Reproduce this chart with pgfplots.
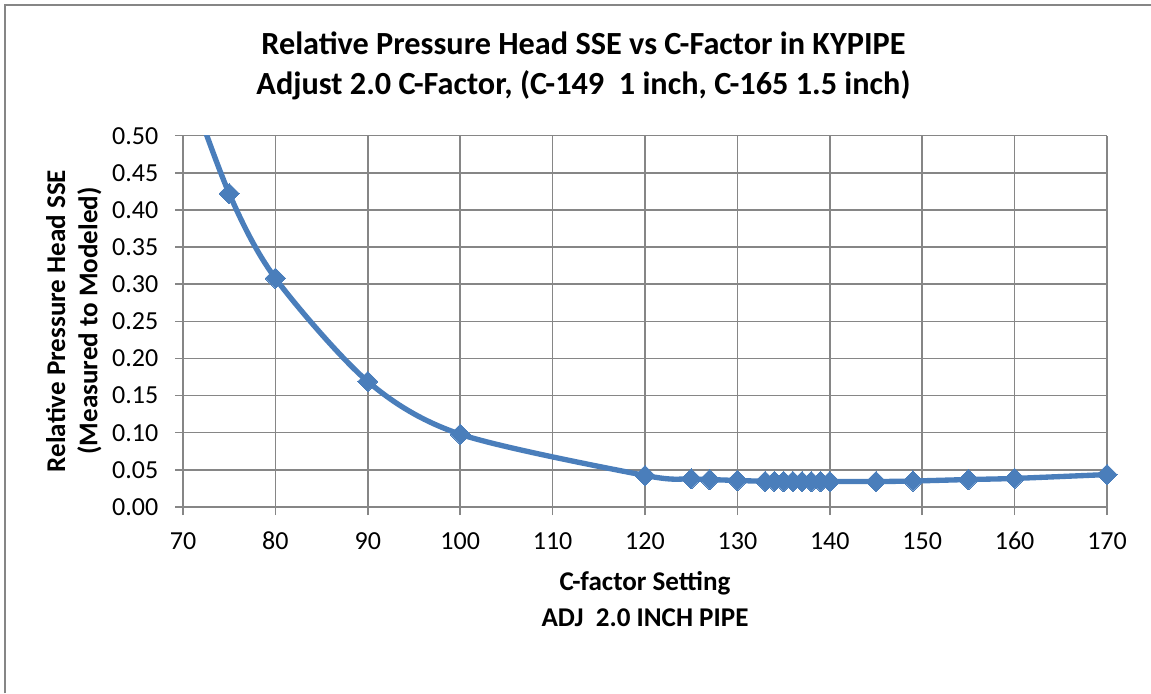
\documentclass[border=0pt]{standalone}
\usepackage{fontspec}
\setmainfont{Carlito}
\usepackage{pgfplots}
\pgfplotsset{compat=1.18}
\definecolor{gridgray}{HTML}{868686}
\definecolor{serblue}{HTML}{4A7EBB}
\begin{document}
\begin{tikzpicture}
\path[use as bounding box] (0,0) rectangle (863.25pt,-519.75pt);
\draw[gridgray, line width=0.8pt] (3.75pt,-520pt) -- (3.75pt,-3.75pt) -- (864pt,-3.75pt);
\begin{axis}[
  at={(137.25pt,-380.25pt)}, anchor=south west,
  scale only axis, width=693pt, height=278.5pt,
  xmin=70, xmax=170, ymin=0, ymax=0.5,
  xtick={70,80,...,170},
  ytick={0,0.05,...,0.5},
  axis lines=left, axis line style={gridgray, line width=1.1pt, -},
  grid=major, major grid style={gridgray, line width=1.1pt},
  tick align=outside, major tick length=6pt,
  tick style={gridgray, line width=1.1pt},
  /pgf/number format/assume math mode=true,
  yticklabel style={xshift=-9pt, /pgf/number format/.cd, fixed, fixed zerofill, precision=2},
  xticklabel style={yshift=-9pt, text height=13pt, text depth=0pt, /pgf/number format/.cd, fixed},
  ticklabel style={font=\fontsize{19.5}{22}\selectfont, text=black},
  scaled y ticks=false,
]
\addplot[serblue, line width=4pt, smooth, tension=0.5,
  mark=square*, mark size=5.4pt, mark options={rotate=45, fill=serblue, draw=serblue, line width=0pt}]
  coordinates {
  (70,0.59)
  (75,0.422) (80,0.308) (90,0.169) (100,0.098)
  (120,0.0425) (125,0.038) (127,0.037) (130,0.0357)
  (133,0.0346) (134,0.0345) (135,0.0344) (136,0.0344) (137,0.0343) (138,0.0343) (139,0.0343) (140,0.0343)
  (145,0.0343) (149,0.0350) (155,0.0370) (160,0.0385) (170,0.0437)
  };
\end{axis}
\node[anchor=base, font=\bfseries\fontsize{24.2}{28}\selectfont] at (437.6pt,-41.2pt) {Relative Pressure Head SSE vs C-Factor in KYPIPE};
\node[anchor=base, font=\bfseries\fontsize{24.2}{28}\selectfont] at (437.6pt,-70.5pt) {Adjust 2.0 C-Factor, (C-149\ \ 1 inch, C-165 1.5 inch)};
\node[anchor=base, font=\bfseries\fontsize{20.3}{23}\selectfont] at (483.75pt,-442.8pt) {C-factor Setting};
\node[anchor=base, font=\bfseries\fontsize{20.3}{23}\selectfont] at (483.75pt,-469.8pt) {ADJ\ \ 2.0 INCH PIPE};
\node[anchor=base, rotate=90, font=\bfseries\fontsize{20.3}{23}\selectfont] at (48.75pt,-240.75pt) {Relative Pressure Head SSE};
\node[anchor=base, rotate=90, font=\bfseries\fontsize{20.3}{23}\selectfont] at (73pt,-240.75pt) {(Measured to Modeled)};
\end{tikzpicture}
\end{document}
